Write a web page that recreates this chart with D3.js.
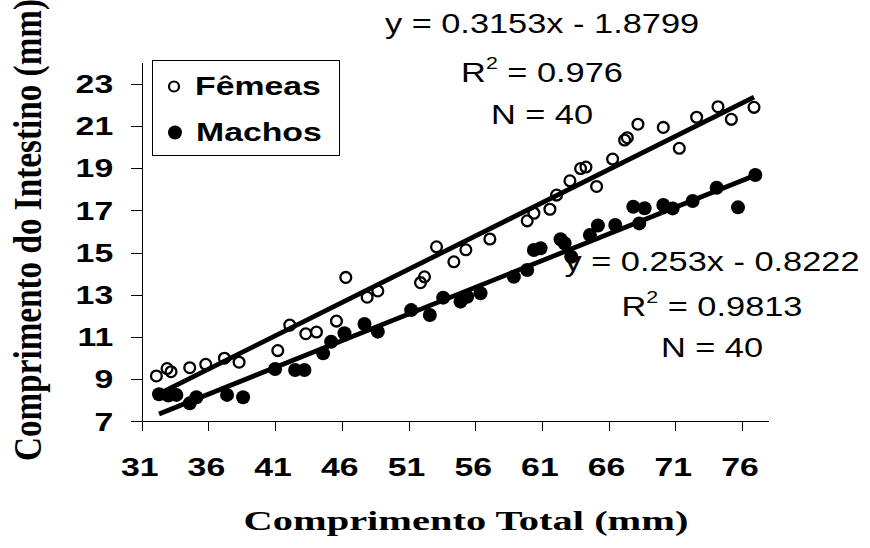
<!DOCTYPE html>
<html>
<head>
<meta charset="utf-8">
<script src="https://cdn.jsdelivr.net/npm/d3@7"></script>
<style>
  html, body { margin: 0; padding: 0; background: #fff; }
  svg { display: block; }
</style>
</head>
<body>
<svg id="chart" width="870" height="548"></svg>
<script>
// Comprimento total (mm) vs comprimento do intestino (mm)
const femaleX = [32.1, 32.9, 33.2, 34.6, 35.8, 37.2, 38.3, 41.2, 42.1, 43.3, 44.1, 45.6, 46.3, 47.9, 48.7, 51.9, 52.2, 53.1, 54.4, 55.3, 57.1, 59.9, 60.4, 61.6, 62.1, 63.1, 63.9, 64.3, 65.1, 66.3, 67.2, 67.4, 68.2, 70.1, 71.3, 72.6, 74.2, 75.2, 76.9];
const femaleY = [9.15, 9.5, 9.35, 9.54, 9.7, 9.99, 9.8, 10.35, 11.56, 11.15, 11.23, 11.75, 13.82, 12.88, 13.18, 13.57, 13.85, 15.27, 14.56, 15.13, 15.64, 16.5, 16.86, 17.05, 17.72, 18.4, 18.98, 19.05, 18.13, 19.43, 20.33, 20.44, 21.08, 20.93, 19.94, 21.41, 21.91, 21.31, 21.88];

const maleX = [32.3, 33.0, 33.6, 34.6, 35.1, 37.4, 38.6, 41.0, 42.5, 43.2, 44.6, 45.2, 46.2, 47.7, 48.7, 51.2, 52.6, 53.6, 54.9, 55.4, 56.4, 58.9, 59.9, 60.4, 60.9, 62.4, 62.7, 63.2, 64.6, 65.2, 66.5, 67.85, 68.3, 68.7, 70.1, 70.8, 72.3, 74.1, 75.7, 77.0];
const maleY = [8.28, 8.22, 8.25, 7.85, 8.14, 8.25, 8.14, 9.48, 9.43, 9.43, 10.22, 10.77, 11.17, 11.61, 11.25, 12.27, 12.04, 12.86, 12.67, 12.9, 13.07, 13.85, 14.17, 15.12, 15.2, 15.63, 15.44, 14.8, 15.83, 16.28, 16.3, 17.17, 16.38, 17.1, 17.25, 17.09, 17.44, 18.07, 17.14, 18.67];

// linear trend lines (slope, intercept)
const femaleTrend = [0.3153, -1.8799];
const maleTrend = [0.253, -0.8222];

const seriesNames = ["Fêmeas", "Machos"];
const femaleLabel = ["y = 0.3153x - 1.8799", "0.976", "N = 40"];
const maleLabel = ["y = 0.253x - 0.8222", "0.9813", "N = 40"];

const xTicks = [31, 36, 41, 46, 51, 56, 61, 66, 71, 76];
const yTicks = [7, 9, 11, 13, 15, 17, 19, 21, 23];
const xTitle = "Comprimento Total (mm)";
const yTitle = "Comprimento do Intestino (mm)";

const svg = d3.select("#chart");
svg.append("rect").attr("width", 870).attr("height", 548).attr("fill", "#fff");

const x = d3.scaleLinear().domain([31, 78]).range([141.7, 141.7 + 47 * 13.34]);
const y = d3.scaleLinear().domain([7, 24]).range([421.3, 421.3 - 17 * 21.1]);

const SANS = "'Liberation Sans', Arial, sans-serif";
const SERIF = "'Liberation Serif', 'Times New Roman', serif";

// text stretched horizontally by sx around its anchor point
function stretchedText(px, py, sx, str, opts) {
  const g = svg.append("g").attr("transform", `translate(${px},${py}) scale(${sx},1)`);
  const t = g.append("text")
    .attr("x", 0).attr("y", 0)
    .attr("text-anchor", opts.anchor || "start")
    .attr("font-family", opts.family || SANS)
    .attr("font-size", opts.size)
    .attr("font-weight", opts.weight || "normal")
    .attr("fill", "#000")
    .text(str);
  return t;
}

// axes
const xAxis = svg.append("g")
  .attr("transform", `translate(0,${y(7)})`)
  .call(d3.axisBottom(x).tickValues(xTicks).tickSize(10).tickSizeOuter(0).tickFormat(""));
const yAxis = svg.append("g")
  .attr("transform", `translate(${x(31)},0)`)
  .call(d3.axisLeft(y).tickValues(yTicks).tickSize(11).tickSizeOuter(0).tickFormat(""));
[xAxis, yAxis].forEach(a => {
  a.select(".domain").attr("stroke", "#000").attr("stroke-width", 1).attr("shape-rendering", "crispEdges");
  a.selectAll(".tick line").attr("stroke", "#000").attr("stroke-width", 1).attr("shape-rendering", "crispEdges");
});

const TICK_SX = 1.3, TICK_FS = 26;
xTicks.forEach(v => {
  stretchedText(x(v) - 2, y(7) + 55, TICK_SX, String(v), { anchor: "middle", size: TICK_FS, weight: "bold" });
});
yTicks.forEach(v => {
  stretchedText(x(31) - 28.5, y(v) + 0.36 * TICK_FS, TICK_SX, String(v), { anchor: "end", size: TICK_FS, weight: "bold" });
});

// axis titles
svg.append("text")
  .attr("x", 466).attr("y", 530)
  .attr("text-anchor", "middle")
  .attr("font-family", SERIF).attr("font-weight", "bold").attr("font-size", 27.5)
  .attr("textLength", 445).attr("lengthAdjust", "spacingAndGlyphs")
  .text(xTitle);

svg.append("text")
  .attr("transform", "translate(41,230) rotate(-90)")
  .attr("text-anchor", "middle")
  .attr("font-family", SERIF).attr("font-weight", "bold").attr("font-size", 40)
  .attr("textLength", 462).attr("lengthAdjust", "spacingAndGlyphs")
  .text(yTitle);

// data points
const females = femaleX.map((v, i) => [v, femaleY[i]]);
const males = maleX.map((v, i) => [v, maleY[i]]);

svg.append("g").selectAll("circle").data(females).join("circle")
  .attr("cx", d => x(d[0])).attr("cy", d => y(d[1])).attr("r", 5.4)
  .attr("fill", "none").attr("stroke", "#000").attr("stroke-width", 2.3);

svg.append("g").selectAll("circle").data(males).join("circle")
  .attr("cx", d => x(d[0])).attr("cy", d => y(d[1])).attr("r", 7)
  .attr("fill", "#000");

// trend lines across each series' range
function trend(xs, coef) {
  const [a, b] = d3.extent(xs);
  return [[a, coef[0] * a + coef[1]], [b, coef[0] * b + coef[1]]];
}
const line = d3.line().x(d => x(d[0])).y(d => y(d[1]));
svg.append("path").attr("d", line(trend(femaleX, femaleTrend)))
  .attr("stroke", "#000").attr("stroke-width", 4.8).attr("fill", "none");
svg.append("path").attr("d", line(trend(maleX, maleTrend)))
  .attr("stroke", "#000").attr("stroke-width", 4.8).attr("fill", "none");

// equation labels
const EQ_SX = 1.25, EQ_FS = 27.5;
function eqLabel(cx, baselines, lab) {
  stretchedText(cx, baselines[0], EQ_SX, lab[0], { anchor: "middle", size: EQ_FS });
  const t = stretchedText(cx, baselines[1], EQ_SX, "", { anchor: "middle", size: EQ_FS });
  t.append("tspan").text("R");
  t.append("tspan").attr("dy", -13).attr("font-size", EQ_FS * 0.62).text("2");
  t.append("tspan").attr("dy", 13).text(" = " + lab[1]);
  stretchedText(cx, baselines[2], EQ_SX, lab[2], { anchor: "middle", size: EQ_FS });
}
eqLabel(542, [33.3, 82, 124], femaleLabel);
eqLabel(712, [270.7, 316, 357], maleLabel);

// legend
svg.append("rect")
  .attr("x", 152.7).attr("y", 60.7).attr("width", 186.3).attr("height", 94.3)
  .attr("fill", "#fff").attr("stroke", "#000").attr("stroke-width", 1)
  .attr("shape-rendering", "crispEdges");
svg.append("circle").attr("cx", 174).attr("cy", 86.5).attr("r", 5)
  .attr("fill", "none").attr("stroke", "#000").attr("stroke-width", 2.2);
svg.append("circle").attr("cx", 175).attr("cy", 132.5).attr("r", 7).attr("fill", "#000");
stretchedText(195, 95, 1.3, seriesNames[0], { size: 26, weight: "bold" });
stretchedText(196, 140.5, 1.3, seriesNames[1], { size: 26, weight: "bold" });
</script>
</body>
</html>
